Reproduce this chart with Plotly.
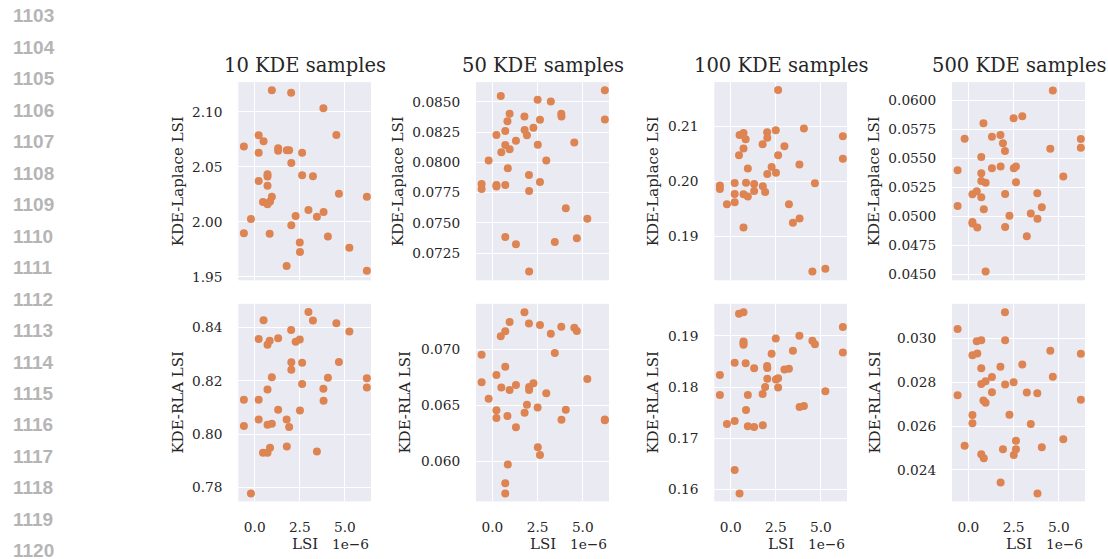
import plotly.graph_objects as go

# LSI of each dataset, in units of 1e-6
LSI_SCALE = 1e-6
lsi_e6 = [-0.60, -0.60, -0.21, 0.22, 0.22, 0.22, 0.46, 0.49, 0.71, 0.71,
          0.71, 0.71, 0.83, 0.85, 0.95, 0.95, 1.30, 1.30, 1.77, 1.78,
          1.91, 2.02, 2.03, 2.03, 2.27, 2.50, 2.51, 2.63, 2.63, 2.98,
          3.23, 3.45, 3.81, 3.82, 4.06, 4.53, 4.67, 5.25, 6.22, 6.22]

sample_counts = ["10 KDE samples", "50 KDE samples", "100 KDE samples", "500 KDE samples"]

laplace_10 = [2.0686, 1.9898, 2.0027, 2.0787, 2.0629, 2.0371, 2.0180, 2.0733, 2.0434, 2.0413,
              2.0329, 2.0160, 1.9892, 2.0186, 2.1195, 2.0228, 2.0670, 2.0647, 1.9600, 2.0650,
              2.0650, 2.1174, 2.0536, 1.9970, 2.0054, 1.9814, 1.9727, 2.0629, 2.0425, 2.0108,
              2.0416, 2.0048, 2.1033, 2.0090, 1.9868, 2.0790, 2.0257, 1.9766, 2.0228, 1.9557]
laplace_50 = [0.07822, 0.07780, 0.08016, 0.08226, 0.07813, 0.07802, 0.08549, 0.08084, 0.08259, 0.08144,
              0.07813, 0.07384, 0.08341, 0.07953, 0.08402, 0.08109, 0.08180, 0.07324, 0.08380, 0.08268,
              0.08224, 0.07896, 0.07764, 0.07099, 0.08287, 0.08519, 0.08147, 0.08352, 0.07838, 0.08016,
              0.08503, 0.07343, 0.08402, 0.08380, 0.07622, 0.08164, 0.07373, 0.07535, 0.08596, 0.08355]
laplace_100 = [0.19925, 0.19865, 0.19589, 0.19973, 0.19775, 0.19625, 0.20477, 0.20844, 0.20880, 0.20598,
               0.19769, 0.19168, 0.20766, 0.19979, 0.20237, 0.19727, 0.19955, 0.19829, 0.20676, 0.19913,
               0.19811, 0.20892, 0.20790, 0.20135, 0.20261, 0.20928, 0.20159, 0.21655, 0.20477, 0.20640,
               0.19589, 0.19252, 0.20309, 0.19330, 0.20958, 0.18369, 0.19967, 0.18417, 0.20820, 0.20411]
laplace_500 = [0.05398, 0.05091, 0.05668, 0.05190, 0.04952, 0.04940, 0.05216, 0.04906, 0.05511, 0.05372,
               0.05304, 0.05165, 0.05801, 0.05063, 0.05290, 0.04528, 0.05685, 0.05415, 0.05699, 0.05429,
               0.05628, 0.05563, 0.05193, 0.04909, 0.05006, 0.05844, 0.05415, 0.05429, 0.05295, 0.05861,
               0.04830, 0.05026, 0.05199, 0.04980, 0.05080, 0.05582, 0.06082, 0.05344, 0.05665, 0.05591]

rla_10 = [0.8129, 0.8031, 0.7778, 0.8357, 0.8129, 0.8055, 0.7930, 0.8427, 0.8335, 0.8168,
          0.8035, 0.7930, 0.8350, 0.7949, 0.8214, 0.8039, 0.8360, 0.8092, 0.8055, 0.7954,
          0.8027, 0.8391, 0.8270, 0.8242, 0.8347, 0.8355, 0.8089, 0.8268, 0.8188, 0.8458,
          0.8426, 0.7935, 0.8170, 0.8125, 0.8212, 0.8416, 0.8271, 0.8385, 0.8210, 0.8175]
rla_50 = [0.06950, 0.06704, 0.06556, 0.06769, 0.06453, 0.06385, 0.07115, 0.06657, 0.07160, 0.06843,
          0.05802, 0.05710, 0.06402, 0.05970, 0.07243, 0.06636, 0.06680, 0.06302, 0.07331, 0.06432,
          0.06503, 0.07231, 0.06663, 0.06636, 0.06695, 0.06479, 0.06124, 0.07216, 0.06053, 0.06607,
          0.07139, 0.06967, 0.07201, 0.06370, 0.06459, 0.07192, 0.07163, 0.06734, 0.06364, 0.06372]
rla_100 = [0.18237, 0.17843, 0.17280, 0.18476, 0.17339, 0.16382, 0.19433, 0.15923, 0.19459, 0.18890,
           0.18860, 0.18825, 0.18463, 0.17552, 0.17843, 0.17235, 0.18367, 0.17222, 0.17862, 0.17255,
           0.18000, 0.18412, 0.18373, 0.18160, 0.18651, 0.18948, 0.18147, 0.18173, 0.17992, 0.18341,
           0.18360, 0.18709, 0.19000, 0.17610, 0.17630, 0.18903, 0.18838, 0.17920, 0.19175, 0.18677]
rla_500 = [0.03042, 0.02741, 0.02510, 0.02923, 0.02650, 0.02613, 0.02986, 0.02931, 0.02991, 0.02864,
           0.02792, 0.02472, 0.02717, 0.02454, 0.02804, 0.02706, 0.02824, 0.02754, 0.02870, 0.02343,
           0.02495, 0.03119, 0.02991, 0.02789, 0.02652, 0.02800, 0.02468, 0.02533, 0.02494, 0.02881,
           0.02753, 0.02610, 0.02750, 0.02293, 0.02504, 0.02943, 0.02825, 0.02540, 0.02929, 0.02720]

row_labels = ["KDE-Laplace LSI", "KDE-RLA LSI"]
x_tick_values_e6 = [0.0, 2.5, 5.0]
x_tick_labels = ["0.0", "2.5", "5.0"]
line_numbers = list(range(1103, 1121))

lsi = [v * LSI_SCALE for v in lsi_e6]
grid = [[laplace_10, laplace_50, laplace_100, laplace_500],
        [rla_10, rla_50, rla_100, rla_500]]

# axis styling per panel: (range, dtick, format)
y_axes_style = [
    [([1.947, 2.127], 0.05, ".2f"), ([0.07026, 0.08664], 0.0025, ".4f"),
     ([0.1821, 0.2180], 0.01, ".2f"), ([0.04452, 0.06154], 0.0025, ".4f")],
    [([0.7748, 0.8489], 0.02, ".2f"), ([0.05639, 0.07406], 0.005, ".3f"),
     ([0.15767, 0.19626], 0.01, ".2f"), ([0.02257, 0.03157], 0.002, ".3f")],
]

W, H = 1108, 559
col_px = [(238.3, 371.0), (476.0, 609.0), (714.3, 847.0), (952.0, 1085.0)]
row_px = [(82.7, 282.3), (306.0, 505.0)]
ylabel_x_px = [[178, 398, 653, 874], [178, 405, 653, 875]]

SERIF = "DejaVu Serif"
TEXT = "#262626"
DOT = "#DD8452"
FACE = "#EAEAF2"

fig = go.Figure()
annotations = []

for r in range(2):
    for c in range(4):
        k = r * 4 + c + 1
        xa = "x" if k == 1 else f"x{k}"
        ya = "y" if k == 1 else f"y{k}"
        fig.add_trace(go.Scatter(
            x=lsi, y=grid[r][c], mode="markers", xaxis=xa, yaxis=ya,
            marker=dict(size=8, color=DOT, line=dict(width=0)),
            showlegend=False, hoverinfo="x+y",
        ))
        x0, x1 = col_px[c]
        y0, y1 = row_px[r]
        rng, dt, fmt = y_axes_style[r][c]
        xkey = "xaxis" if k == 1 else f"xaxis{k}"
        ykey = "yaxis" if k == 1 else f"yaxis{k}"
        fig.layout[xkey] = dict(
            domain=[x0 / W, x1 / W], anchor=ya,
            range=[-0.91 * LSI_SCALE, 6.45 * LSI_SCALE],
            tickvals=[v * LSI_SCALE for v in x_tick_values_e6],
            ticktext=x_tick_labels if r == 1 else ["", "", ""],
            showticklabels=(r == 1),
            ticks="outside", ticklen=13, tickcolor="rgba(0,0,0,0)",
            showgrid=True, gridcolor="white", gridwidth=1.3,
            zeroline=False, showline=False,
            tickfont=dict(family=SERIF, size=13.7, color=TEXT),
        )
        fig.layout[ykey] = dict(
            domain=[1 - y1 / H, 1 - y0 / H], anchor=xa,
            range=rng, dtick=dt, tick0=0, tickformat=fmt,
            ticks="outside", ticklen=12, tickcolor="rgba(0,0,0,0)",
            showgrid=True, gridcolor="white", gridwidth=1.3,
            zeroline=False, showline=False,
            tickfont=dict(family=SERIF, size=13.7, color=TEXT),
        )
        # y-axis label
        annotations.append(dict(
            text=row_labels[r], textangle=-90, showarrow=False,
            xref="paper", yref="paper",
            x=ylabel_x_px[r][c] / W, y=1 - (y0 + y1) / 2 / H,
            xanchor="center", yanchor="middle",
            font=dict(family=SERIF, size=15, color=TEXT),
        ))
        if r == 0:
            annotations.append(dict(
                text=sample_counts[c], showarrow=False,
                xref="paper", yref="paper",
                x=(x0 + x1) / 2 / W, y=1 - 66 / H,
                xanchor="center", yanchor="middle",
                font=dict(family=SERIF, size=19.5, color=TEXT),
            ))
        else:
            annotations.append(dict(
                text="LSI", showarrow=False, xref="paper", yref="paper",
                x=(x0 + x1) / 2 / W, y=1 - 547.5 / H,
                xanchor="center", yanchor="middle",
                font=dict(family=SERIF, size=15, color=TEXT),
            ))
            annotations.append(dict(
                text="1e\u22126", showarrow=False, xref="paper", yref="paper",
                x=x1 / W, y=1 - 547.5 / H,
                xanchor="right", yanchor="middle",
                font=dict(family=SERIF, size=13.7, color=TEXT),
            ))

# manuscript line numbers in the left gutter
for i, n in enumerate(line_numbers):
    annotations.append(dict(
        text=f"<b>{n}</b>", showarrow=False, xref="paper", yref="paper",
        x=11 / W, y=1 - (15.7 + 31.72 * i) / H,
        xanchor="left", yanchor="middle",
        font=dict(family="Liberation Sans", size=19, color="#b5b5b5"),
    ))

fig.update_layout(
    width=W, height=H,
    margin=dict(l=0, r=0, t=0, b=0),
    paper_bgcolor="white", plot_bgcolor=FACE,
    annotations=annotations,
)
for k in range(1, 9):
    fig.layout["xaxis" if k == 1 else f"xaxis{k}"].update()

fig.write_html("out.html")
